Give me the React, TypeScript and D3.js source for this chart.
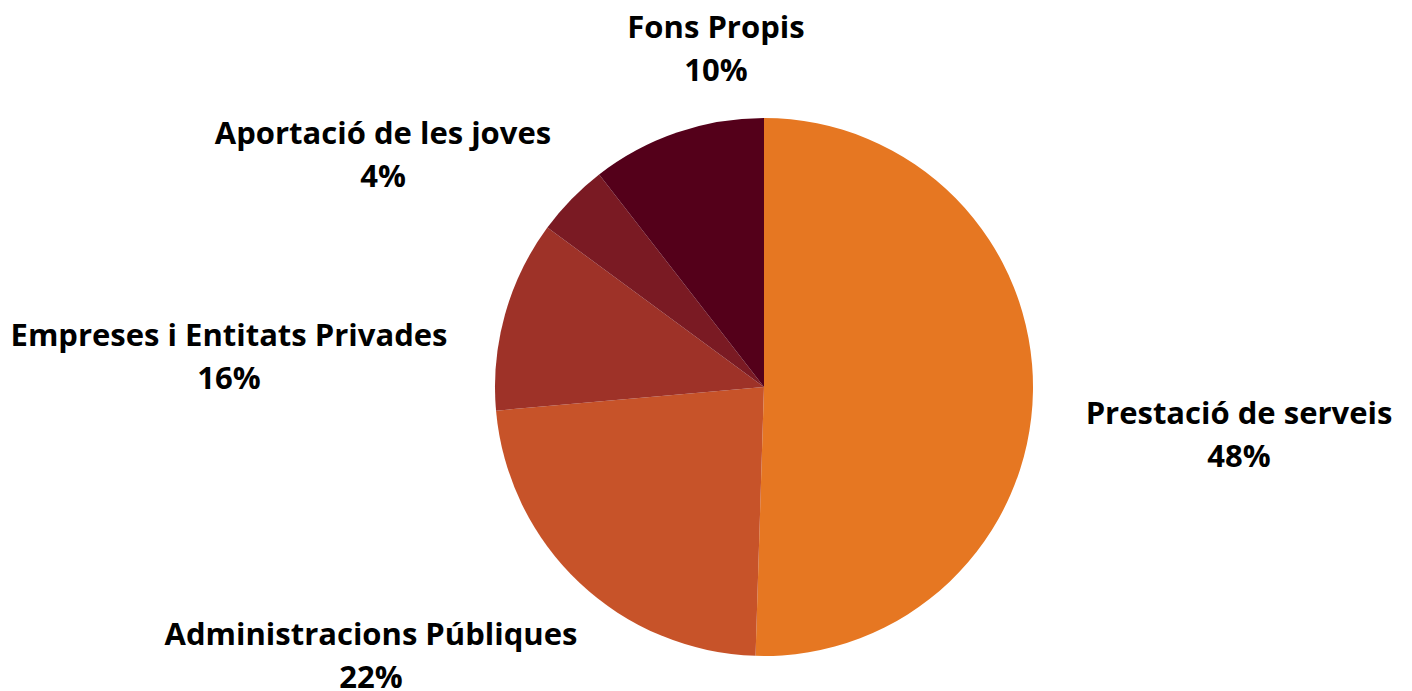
import React from "react";
import * as d3 from "d3";

const categories = [
  "Prestació de serveis",
  "Administracions Públiques",
  "Empreses i Entitats Privades",
  "Aportació de les joves",
  "Fons Propis",
];
const values = [50.5, 23.1, 11.5, 4.4, 10.5];
const percentLabels = ["48%", "22%", "16%", "4%", "10%"];
const colors = ["#E67722", "#C75329", "#9E3228", "#7A1A23", "#54001A"];
const labelPos: [number, number][] = [
  [1239, 413],
  [371, 634],
  [229, 335],
  [383, 133],
  [716, 27],
];

export default function App() {
  const W = 1412, H = 691;
  const cx = 764, cy = 387, r = 269;
  const pie = d3.pie<number>().sort(null).value((d) => d);
  const arcs = pie(values);
  const arc = d3.arc<d3.PieArcDatum<number>>().innerRadius(0).outerRadius(r);
  return (
    <svg width={W} height={H} style={{ position: "absolute", left: 0, top: 0 }}>
      <g transform={`translate(${cx},${cy})`}>
        {arcs.map((a, i) => (
          <path key={i} d={arc(a) || ""} fill={colors[i]} />
        ))}
      </g>
      {categories.map((c, i) => (
        <text
          key={c}
          x={labelPos[i][0]}
          y={labelPos[i][1]}
          textAnchor="middle"
          fontFamily="'Open Sans', sans-serif"
          fontWeight="bold"
          fontSize={31}
          fill="#000"
        >
          <tspan x={labelPos[i][0]} dy="0.35em">{c}</tspan>
          <tspan x={labelPos[i][0]} dy={43}>{percentLabels[i]}</tspan>
        </text>
      ))}
    </svg>
  );
}
